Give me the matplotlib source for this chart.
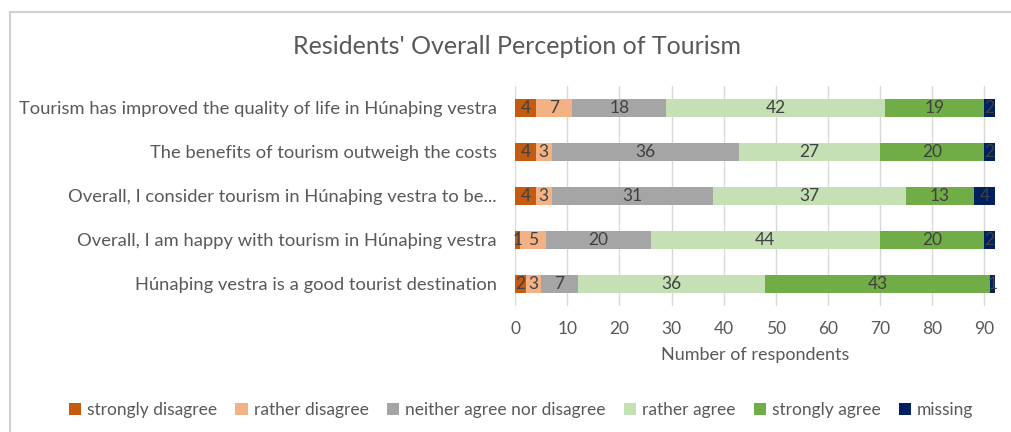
import numpy as np
import matplotlib.pyplot as plt

statements = [
    "Tourism has improved the quality of life in Húnaþing vestra",
    "The benefits of tourism outweigh the costs",
    "Overall, I consider tourism in Húnaþing vestra to be...",
    "Overall, I am happy with tourism in Húnaþing vestra",
    "Húnaþing vestra is a good tourist destination",
]
answers = ["strongly disagree", "rather disagree", "neither agree nor disagree",
           "rather agree", "strongly agree", "missing"]
strongly_disagree = [4, 4, 4, 1, 2]
rather_disagree = [7, 3, 3, 5, 3]
neither = [18, 36, 31, 20, 7]
rather_agree = [42, 27, 37, 44, 36]
strongly_agree = [19, 20, 13, 20, 43]
missing = [2, 2, 4, 2, 1]

colors = ["#C55A11", "#F4B183", "#A5A5A5", "#C5E0B4", "#70AD47", "#002060"]
series = [strongly_disagree, rather_disagree, neither, rather_agree, strongly_agree, missing]

plt.rcParams['font.family'] = ['Lato', 'DejaVu Sans']
txt = "#595959"

fig = plt.figure(figsize=(10.12, 4.32), dpi=100)
ax = fig.add_axes([0.509, 0.292, 0.474, 0.509])

y = np.arange(len(statements))[::-1]
left = np.zeros(len(statements))
for vals, col, name in zip(series, colors, answers):
    vals = np.array(vals)
    bars = ax.barh(y, vals, left=left, height=0.41, color=col, label=name, zorder=2)
    ax.bar_label(bars, labels=[str(v) for v in vals], label_type='center',
                 color="#404040", fontsize=12.5)
    left += vals

ax.set_xlim(0, 92)
ax.set_ylim(-0.5, 4.5)
ax.set_xticks(range(0, 91, 10))
ax.set_yticks(y)
ax.set_yticklabels(statements)
ax.tick_params(axis='both', length=0, colors=txt)
ax.tick_params(axis='x', pad=11, labelsize=12.5)
ax.tick_params(axis='y', pad=13, labelsize=13.2)
ax.grid(axis='x', color="#D9D9D9", linewidth=1, zorder=0)
for s in ax.spines.values():
    s.set_visible(False)
ax.set_xlabel("Number of respondents", color=txt, fontsize=13, labelpad=7)

fig.text(0.511, 0.893, "Residents' Overall Perception of Tourism", ha='center', va='center',
         color=txt, fontsize=18)

fig.legend(loc='center', bbox_to_anchor=(0.515, 0.05), ncol=6, frameon=False,
           handlelength=0.7, handleheight=0.7, handletextpad=0.35, columnspacing=1.05,
           fontsize=12.5, labelcolor=txt)

# chart border (left and top)
fig.add_artist(plt.Line2D([0.0094, 0.0094], [0, 0.972], color="#D0D0D0", linewidth=1.5))
fig.add_artist(plt.Line2D([0.0094, 1], [0.972, 0.972], color="#D0D0D0", linewidth=1.5))

fig.savefig("out.png", dpi=100)
